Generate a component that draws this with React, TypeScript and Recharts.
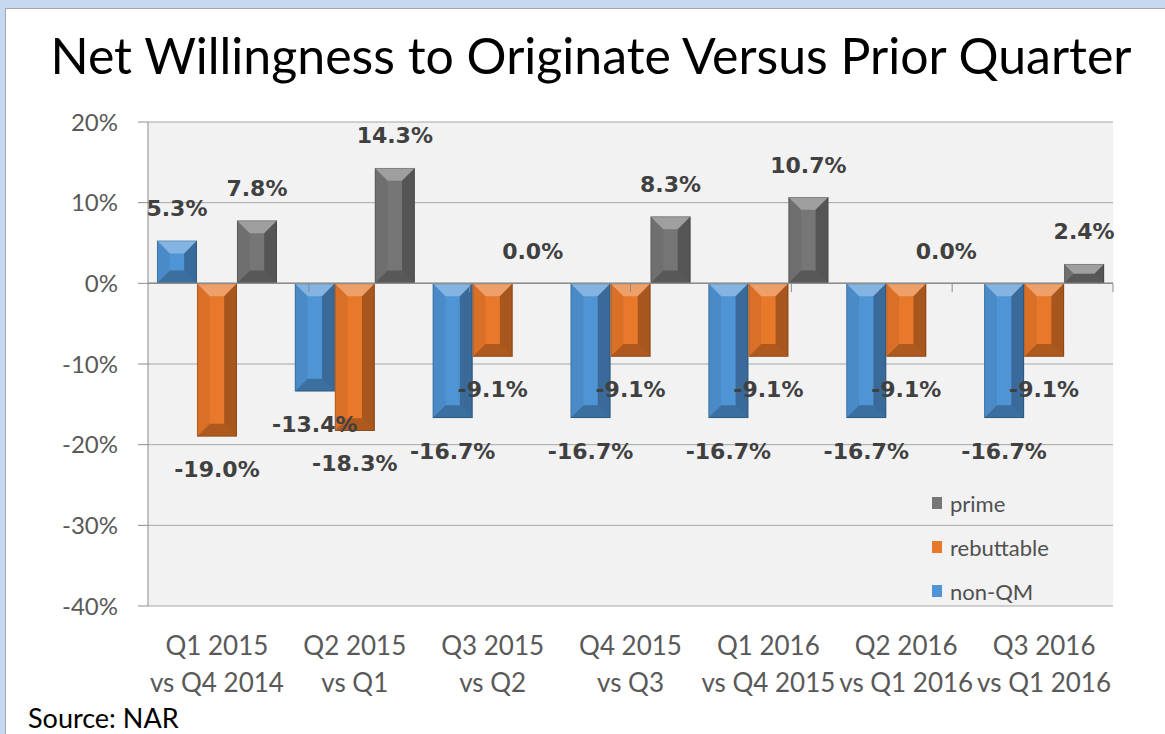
import React from "react";
import {
  Bar,
  BarChart,
  CartesianGrid,
  LabelList,
  Legend,
  ReferenceLine,
  XAxis,
  YAxis,
} from "recharts";

const quarters = ["Q1 2015", "Q2 2015", "Q3 2015", "Q4 2015", "Q1 2016", "Q2 2016", "Q3 2016"];
const comparedTo = ["vs Q4 2014", "vs Q1", "vs Q2", "vs Q3", "vs Q4 2015", "vs Q1 2016", "vs Q1 2016"];

const nonQM = [5.3, -13.4, -16.7, -16.7, -16.7, -16.7, -16.7];
const rebuttable = [-19.0, -18.3, -9.1, -9.1, -9.1, -9.1, -9.1];
const prime = [7.8, 14.3, 0.0, 8.3, 10.7, 0.0, 2.4];

const yTicks = [-40, -30, -20, -10, 0, 10, 20];
const categoryEdges = [1, 2, 3, 4, 5, 6];
const legendOrder = ["prime", "rebuttable", "non-QM"];

const data = quarters.map((q, i) => ({
  name: q + "|" + comparedTo[i],
  nonQM: nonQM[i],
  rebuttable: rebuttable[i],
  prime: prime[i],
}));

const FONT = "Lato, 'Open Sans', sans-serif";
const AXIS_GREY = "#8c8c8c";

// Excel-ish bevelled column
const BevelBar = (props: any) => {
  const { x, y, width, height, fill } = props;
  if (!width || !height) return null;
  const top = Math.min(y, y + height);
  const h = Math.abs(height);
  const w = width;
  const l = x;
  const r = x + w;
  const bot = top + h;
  const b = Math.min(w * 0.32, h / 2, 13);
  return (
    <g>
      <rect x={l} y={top} width={w} height={h} fill={fill} />
      <polygon points={`${l},${top} ${r},${top} ${r - b},${top + b} ${l + b},${top + b}`} fill="#fff" fillOpacity={0.3} />
      <polygon points={`${l},${top} ${l + b},${top + b} ${l + b},${bot - b} ${l},${bot}`} fill="#000" fillOpacity={0.06} />
      <polygon points={`${r},${top} ${r - b},${top + b} ${r - b},${bot - b} ${r},${bot}`} fill="#000" fillOpacity={0.28} />
      <polygon points={`${l},${bot} ${l + b},${bot - b} ${r - b},${bot - b} ${r},${bot}`} fill="#000" fillOpacity={0.25} />
      <rect x={l + 0.5} y={top + 0.5} width={w - 1} height={h - 1} fill="none" stroke="#000" strokeOpacity={0.18} />
    </g>
  );
};

const ValueLabel = (props: any) => {
  const vb = props.viewBox || props;
  const { x, y, width, height } = vb;
  const value = Number(props.value);
  const top = Math.min(y, y + height);
  const bot = Math.max(y, y + height);
  const cy = value >= 0 ? top - 32 : bot + 33;
  return (
    <text
      x={x + width / 2}
      y={cy}
      textAnchor="middle"
      dominantBaseline="central"
      fontFamily="'DejaVu Sans', sans-serif"
      fontWeight="bold"
      fontSize={22}
      fill="#404040"
    >
      {value.toFixed(1) + "%"}
    </text>
  );
};

const CategoryTick = (props: any) => {
  const { x, y, payload } = props;
  const [first, second] = String(payload.value).split("|");
  return (
    <text x={x} textAnchor="middle" fontFamily={FONT} fontSize={26} fill="#595959">
      <tspan x={x} y={y + 49}>{first}</tspan>
      <tspan x={x} y={y + 86}>{second}</tspan>
    </text>
  );
};

const LegendBox = (props: any) => {
  const payload = props.payload || [];
  const items = legendOrder
    .map((n) => payload.find((p: any) => p.value === n))
    .filter(Boolean);
  return (
    <div style={{ fontFamily: FONT, fontSize: 22, color: "#505050" }}>
      {items.map((it: any) => (
        <div key={it.value} style={{ display: "flex", alignItems: "center", height: 44 }}>
          <span style={{ width: 10, height: 12, background: it.color, marginRight: 8, display: "inline-block" }} />
          <span>{it.value}</span>
        </div>
      ))}
    </div>
  );
};

export default function App() {
  return (
    <div
      style={{
        position: "fixed",
        left: 0,
        top: 0,
        width: 1165,
        height: 734,
        background: "#c6d9f1",
        overflow: "hidden",
      }}
    >
      <div
        style={{
          position: "absolute",
          left: 5,
          top: 8,
          width: 1180,
          height: 740,
          background: "#fff",
          border: "1px solid #a6a6a6",
        }}
      />
      <div style={{ position: "absolute", left: 0, top: 0 }}>
        <BarChart
          width={1165}
          height={734}
          data={data}
          margin={{ top: 122, right: 52, left: 0, bottom: 68 }}
          barCategoryGap="6.5%"
          barGap={0}
        >
          <CartesianGrid vertical={false} stroke="#a6a6a6" fill="#f2f2f2" />
          <XAxis
            dataKey="name"
            axisLine={false}
            tickLine={false}
            tickSize={0}
            tickMargin={0}
            height={60}
            interval={0}
            tick={<CategoryTick />}
          />
          <XAxis xAxisId="edges" type="number" domain={[0, 7]} hide />
          <YAxis
            domain={[-40, 20]}
            ticks={yTicks}
            width={148}
            tickSize={10}
            tickMargin={20}
            tickFormatter={(v: number) => `${v}%`}
            axisLine={{ stroke: AXIS_GREY }}
            tickLine={{ stroke: AXIS_GREY }}
            tick={{ fontFamily: FONT, fontSize: 24, fill: "#595959" }}
            interval={0}
          />
          <ReferenceLine y={0} stroke={AXIS_GREY} strokeWidth={1.5} />
          {categoryEdges.map((e) => (
            <ReferenceLine
              key={e}
              xAxisId="edges"
              segment={[
                { x: e, y: 0 },
                { x: e, y: -1.1 },
              ]}
              stroke={AXIS_GREY}
            />
          ))}
          <Legend
            layout="vertical"
            align="center"
            verticalAlign="middle"
            content={<LegendBox />}
            wrapperStyle={{ left: 932, top: 481, width: 170 }}
          />
          <Bar dataKey="nonQM" name="non-QM" fill="#4f94d4" shape={<BevelBar />} isAnimationActive={false}>
            <LabelList dataKey="nonQM" content={<ValueLabel />} />
          </Bar>
          <Bar dataKey="rebuttable" name="rebuttable" fill="#e8782a" shape={<BevelBar />} isAnimationActive={false}>
            <LabelList dataKey="rebuttable" content={<ValueLabel />} />
          </Bar>
          <Bar dataKey="prime" name="prime" fill="#767676" shape={<BevelBar />} isAnimationActive={false}>
            <LabelList dataKey="prime" content={<ValueLabel />} />
          </Bar>
        </BarChart>
      </div>
      <svg
        width={1165}
        height={734}
        style={{ position: "absolute", left: 0, top: 0, pointerEvents: "none" }}
      >
        <text x={591} y={74} textAnchor="middle" fontFamily={FONT} fontSize={50} fill="#000">
          Net Willingness to Originate Versus Prior Quarter
        </text>
        <text x={28} y={728} fontFamily={FONT} fontSize={27} fill="#000">
          Source: NAR
        </text>
      </svg>
    </div>
  );
}
